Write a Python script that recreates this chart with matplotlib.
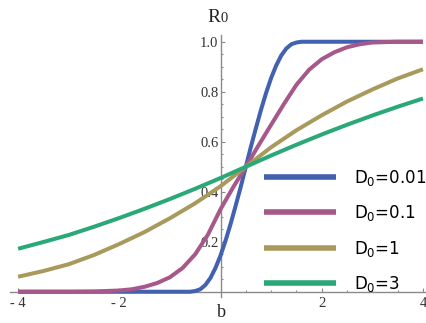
import matplotlib
matplotlib.use("Agg")
import matplotlib.pyplot as plt
from matplotlib.ticker import FixedLocator

plt.rcParams['mathtext.fontset'] = 'dejavusans'

# ---- data ----
b_blue = [-4.0, -0.6, -0.5, -0.4, -0.3, -0.2, -0.1, 0.0, 0.1, 0.2, 0.3, 0.4, 0.5,
          0.6, 0.7, 0.8, 0.9, 1.0, 1.1, 1.2, 1.3, 1.4, 1.5, 1.6, 4.0]
r_blue = [0.0, 0.0, 0.003, 0.01, 0.027, 0.055, 0.095, 0.145, 0.205, 0.272, 0.345, 0.42, 0.5,
          0.58, 0.655, 0.728, 0.795, 0.855, 0.905, 0.945, 0.973, 0.99, 0.997, 1.0, 1.0]

b_pink = [-4.0, -3.0, -2.5, -2.0, -1.75, -1.5, -1.25, -1.0, -0.75, -0.5, -0.25, 0.0, 0.25, 0.5,
          0.75, 1.0, 1.25, 1.5, 1.75, 2.0, 2.25, 2.5, 2.75, 3.0, 3.5, 4.0]
r_pink = [0.0, 0.0, 0.001, 0.005, 0.01, 0.02, 0.035, 0.058, 0.095, 0.15, 0.228, 0.33, 0.418, 0.5,
          0.585, 0.668, 0.75, 0.828, 0.888, 0.93, 0.958, 0.978, 0.99, 0.997, 1.0, 1.0]

b_olive = [-4.0, -3.5, -3.0, -2.5, -2.0, -1.5, -1.0, -0.5, 0.0, 0.5,
           1.0, 1.5, 2.0, 2.5, 3.0, 3.5, 4.0]
r_olive = [0.06, 0.083, 0.11, 0.147, 0.191, 0.239, 0.294, 0.354, 0.422, 0.5,
           0.578, 0.646, 0.706, 0.761, 0.809, 0.853, 0.89]

b_green = [-4.0, -3.5, -3.0, -2.5, -2.0, -1.5, -1.0, -0.5, 0.0, 0.5,
           1.0, 1.5, 2.0, 2.5, 3.0, 3.5, 4.0]
r_green = [0.172, 0.199, 0.227, 0.26, 0.295, 0.332, 0.371, 0.412, 0.455, 0.5,
           0.545, 0.588, 0.629, 0.668, 0.705, 0.74, 0.773]

labels = ['D$_0$=0.01', 'D$_0$=0.1', 'D$_0$=1', 'D$_0$=3']
colors = ['#4262b0', '#a6588b', '#a89a5c', '#2aa878']

x_major = [-4, -2, 2, 4]
x_major_labels = ['- 4', '- 2', '2', '4']
x_minor = [-3.5, -3, -2.5, -1.5, -1, -0.5, 0.5, 1, 1.5, 2.5, 3, 3.5]
y_major = [0.2, 0.4, 0.6, 0.8, 1.0]
y_major_labels = ['0.2', '0.4', '0.6', '0.8', '1.0']
y_minor = [0.05, 0.1, 0.15, 0.25, 0.3, 0.35, 0.45, 0.5, 0.55, 0.65, 0.7, 0.75, 0.85, 0.9, 0.95]

# ---- figure ----
W, H = 427, 323
fig = plt.figure(figsize=(W / 100, H / 100), dpi=100)
ax = fig.add_axes([10 / W, 1 - 297 / H, 417 / W, 262 / H])
ax.set_xlim(-4.16, 4.08)
ax.set_ylim(-0.021, 1.027)
ax.patch.set_alpha(0)

series = [(b_blue, r_blue), (b_pink, r_pink), (b_olive, r_olive), (b_green, r_green)]
for (bx, ry), c, lab in zip(series, colors, labels):
    ax.plot(bx, ry, color=c, lw=2.9, label=lab, solid_capstyle='butt',
            solid_joinstyle='round', zorder=3)

axis_color = '#8a8a8a'
for s in ['top', 'right']:
    ax.spines[s].set_visible(False)
ax.spines['left'].set_position(('data', 0))
ax.spines['bottom'].set_position(('data', 0))
for s in ['left', 'bottom']:
    ax.spines[s].set_color(axis_color)
    ax.spines[s].set_linewidth(1.0)
    ax.spines[s].set_zorder(1)

ax.xaxis.set_major_locator(FixedLocator(x_major))
ax.xaxis.set_minor_locator(FixedLocator(x_minor))
ax.set_xticklabels(x_major_labels)
ax.yaxis.set_major_locator(FixedLocator(y_major))
ax.yaxis.set_minor_locator(FixedLocator(y_minor))
ax.set_yticklabels(y_major_labels)

ax.tick_params(which='both', direction='in', color=axis_color, width=0.8)
ax.tick_params(which='major', length=3.0)
ax.tick_params(which='minor', length=1.6)
ax.tick_params(axis='y', which='major', pad=1.5)
ax.tick_params(axis='x', which='major', pad=4)
for t in ax.get_xticklabels() + ax.get_yticklabels():
    t.set_fontfamily('Liberation Serif')
    t.set_fontsize(10.5)
    t.set_color('#333333')
    t.set_zorder(2)

# axis labels
fig.text(221 / W, 1 - 317 / H, 'b', family='Liberation Serif', fontsize=13,
         ha='center', va='baseline', color='#222222')
fig.text(207 / W, 1 - 22 / H, 'R', family='Liberation Serif', fontsize=14,
         ha='left', va='baseline', color='#222222')
fig.text(221 / W, 1 - 22 / H, '0', family='Liberation Serif', fontsize=10.5,
         ha='left', va='baseline', color='#222222')

leg = ax.legend(loc='upper left', bbox_to_anchor=(264 / W, 1 - 168 / H),
                bbox_transform=fig.transFigure, frameon=False,
                prop={'family': 'DejaVu Sans', 'size': 12},
                handlelength=4.3, handletextpad=1.1, labelspacing=0.92,
                borderpad=0, borderaxespad=0)
for line in leg.get_lines():
    line.set_linewidth(4.0)

fig.savefig('out.png', dpi=100)
